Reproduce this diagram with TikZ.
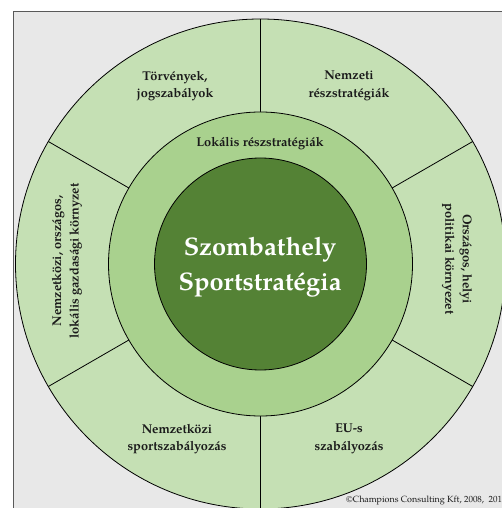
\documentclass[tikz,border=0pt]{standalone}
\usepackage{fontspec}
\setmainfont{TeX Gyre Pagella}
\definecolor{outerg}{HTML}{C5E0B4}
\definecolor{midg}{HTML}{A9D18E}
\definecolor{innerg}{HTML}{548235}
\definecolor{framebg}{HTML}{E8E8E8}
\definecolor{txt}{HTML}{1A1A1A}
\tikzset{
  ring/.style={circle, draw=black, line width=0.8bp, inner sep=0pt, outer sep=0pt},
  divider/.style={draw=black, line width=0.8bp},
  lbl/.style={align=center, text=txt, font=\fontsize{12.8}{17.5}\selectfont\bfseries, inner sep=0pt},
  title/.style={align=center, text=white, font=\fontsize{25.5}{35}\selectfont\bfseries, inner sep=0pt},
  copy/.style={anchor=base west, text=txt, font=\fontsize{9}{10}\selectfont, inner sep=0pt},
  framebox/.style={fill=framebg, draw=black!65, line width=1bp}
}
\begin{document}
\begin{tikzpicture}[x=1bp,y=-1bp]
\useasboundingbox (0,0) rectangle (502,508);
\clip (0,0) rectangle (502,508);
\fill[white] (0,0) rectangle (502,508);
\draw[framebox] (13,12) rectangle (560,560);
\coordinate (c) at (260.5,264);
\node[ring, fill=outerg, minimum size=490bp] (outer) at (c) {};
\foreach \a in {30,90,150,210,270,330} \draw[divider] (c) -- (outer.\a);
\node[ring, fill=midg, minimum size=304bp] (mid) at (c) {};
\node[ring, fill=innerg, minimum size=212bp] (inner) at (c) {};
\node[title] (t0) at (260,267) {Szombathely\\Sportstratégia};
\node[lbl] (t1) at (260,144) {Lokális részstratégiák};
\node[lbl] (t2) at (175,86) {Törvények,\\jogszabályok};
\node[lbl] (t3) at (349,86) {Nemzeti\\részstratégiák};
\node[lbl, rotate=-90] (t4) at (457,259) {Országos, helyi\\politikai környezet};
\node[lbl, rotate=90] (t5) at (67,261) {Nemzetközi, országos,\\lokális gazdasági környzet};
\node[lbl] (t6) at (177,439) {Nemzetközi\\sportszabályozás};
\node[lbl] (t7) at (349,439) {EU-s\\szabályozás};
\node[copy] (t8) at (346,502) {©Champions Consulting Kft, 2008,\ \ 2013};
\end{tikzpicture}
\end{document}
